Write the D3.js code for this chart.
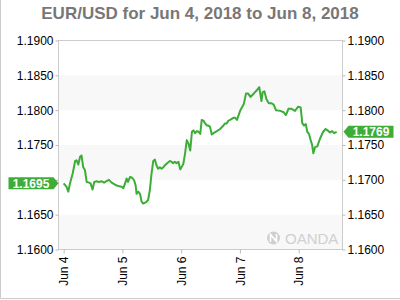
<!DOCTYPE html>
<html>
<head>
<meta charset="utf-8">
<title>EUR/USD</title>
<style type="text/css">
body { margin: 0; background: #fff; }
svg { display: block; font-family: "Liberation Sans", Arial, sans-serif; }
.line { fill: none; stroke: #3cad37; stroke-width: 2; stroke-linejoin: round; }
.axis text { font-size: 12px; fill: #000; }
.axis line { stroke: #bbb; }
.axis path { display: none; }
</style>
</head>
<body>
<div id="chart"></div>
<script src="https://d3js.org/d3.v7.min.js"></script>
<script>

// hours after Jun 4 2018 00:00
var hours = [0, 1.2, 1.9, 2.6, 3.7, 4.7, 5.3, 6.0, 6.7, 7.3, 8.0, 8.7, 9.4, 10.4, 11.0, 11.8,
  12.5, 13.5, 14.4, 15.5, 16.5, 17.5, 18.5, 19.6, 21.0, 22.3, 23.7, 24.4, 25.3, 25.7, 26.3,
  27.1, 28.0, 28.8, 29.4, 29.8, 30.5, 31.2, 31.8, 32.5, 33.7, 34.5, 35.2, 35.9, 36.6, 37.3,
  37.9, 38.6, 39.3, 40.0, 40.7, 41.4, 42.4, 43.4, 44.0, 44.7, 45.4, 46.1, 46.9, 47.6, 48.3,
  48.9, 49.6, 50.3, 51.0, 51.7, 52.4, 53.0, 53.7, 54.4, 55.1, 55.8, 56.4, 57.1, 57.8, 58.5,
  59.1, 59.8, 60.5, 61.2, 62.6, 63.9, 65.3, 65.9, 66.6, 67.3, 68.0, 69.3, 70.1, 70.8, 72.2,
  73.6, 74.5, 75.3, 76.3, 77.7, 79.0, 79.9, 80.8, 81.3, 82.0, 82.8, 83.8, 84.8, 85.8, 86.7,
  88.5, 89.9, 90.8, 91.8, 93.1, 94.5, 95.8, 96.8, 97.5, 98.2, 98.9, 99.5, 100.2, 100.9,
  101.5, 102.0, 102.7, 103.6, 104.7, 106.0, 107.0, 107.8, 108.8, 109.7, 110.5, 111.5];

var prices = [1.1695, 1.1690, 1.1683, 1.1695, 1.1709, 1.1727, 1.1728, 1.1722, 1.1733, 1.1735,
  1.1718, 1.1714, 1.1697, 1.1696, 1.1695, 1.1686, 1.1697, 1.1698, 1.1697, 1.1698, 1.1696,
  1.1698, 1.1700, 1.1696, 1.1693, 1.1691, 1.1690, 1.1688, 1.1697, 1.1702, 1.1697, 1.1704,
  1.1703, 1.1699, 1.1692, 1.1680, 1.1683, 1.1680, 1.1669, 1.1666, 1.1668, 1.1671, 1.1685,
  1.1709, 1.1727, 1.1729, 1.1721, 1.1716, 1.1718, 1.1716, 1.1718, 1.1721, 1.1724, 1.1727,
  1.1726, 1.1724, 1.1726, 1.1724, 1.1726, 1.1715, 1.1719, 1.1723, 1.1738, 1.1757, 1.1752,
  1.1742, 1.1769, 1.1771, 1.1767, 1.1770, 1.1769, 1.1766, 1.1786, 1.1785, 1.1781, 1.1778,
  1.1778, 1.1776, 1.1765, 1.1767, 1.1770, 1.1773, 1.1778, 1.1781, 1.1781, 1.1785, 1.1786,
  1.1789, 1.1789, 1.1786, 1.1800, 1.1809, 1.1824, 1.1824, 1.1819, 1.1824, 1.1829, 1.1833,
  1.1813, 1.1826, 1.1827, 1.1816, 1.1810, 1.1810, 1.1808, 1.1800, 1.1799, 1.1797, 1.1793,
  1.1802, 1.1802, 1.1799, 1.1805, 1.1804, 1.1781, 1.1778, 1.1780, 1.1769, 1.1766, 1.1757,
  1.1750, 1.1738, 1.1747, 1.1748, 1.1759, 1.1769, 1.1773, 1.1771, 1.1768, 1.1770, 1.1767,
  1.1769];

var yTicks = [1.1600, 1.1650, 1.1700, 1.1750, 1.1800, 1.1850, 1.1900];
var title = "EUR/USD for Jun 4, 2018 to Jun 8, 2018";

var width = 400, height = 300;
var plotL = 58.5, plotR = 342.5, plotT = 40.5, plotB = 249.5;
var base = Date.UTC(2018, 5, 4);
var H = 3600 * 1000;
var fmt = d3.format(".4f");

var data = hours.map(function(h, i) { return { t: new Date(base + h * H), v: prices[i] }; });
var first = prices[0], last = prices[prices.length - 1];

var xScale = d3.scaleUtc()
    .domain([new Date(base - 2.1 * H), new Date(base + 113.9 * H)])
    .range([plotL, plotR]);

var yScale = d3.scaleLinear()
    .domain([1.16, 1.19])
    .range([plotB, plotT]);

var svg = d3.select("#chart").append("svg")
    .attr("width", width)
    .attr("height", height);

// outer frame
svg.append("path")
    .attr("d", "M0.5,0 V298.5 H400")
    .attr("fill", "none")
    .attr("stroke", "#ccc");

// alternating bands
for (var i = 0; i < yTicks.length - 1; i++) {
  if (i % 2 == 0) {
    svg.append("rect")
        .attr("x", plotL)
        .attr("y", yScale(yTicks[i + 1]))
        .attr("width", plotR - plotL)
        .attr("height", yScale(yTicks[i]) - yScale(yTicks[i + 1]))
        .attr("fill", "#f8f8f8");
  }
}

svg.append("rect")
    .attr("x", plotL).attr("y", plotT)
    .attr("width", plotR - plotL).attr("height", plotB - plotT)
    .attr("fill", "none")
    .attr("stroke", "#ccc");

// watermark
var wm = svg.append("g").attr("transform", "translate(273.5,238)");
wm.append("circle").attr("r", 6.5).attr("fill", "#cfcfcf");
wm.append("path")
    .attr("d", "M-3,4 V-3.5 L3,3.5 V-4")
    .attr("fill", "none")
    .attr("stroke", "#fff")
    .attr("stroke-width", 1.6);
svg.append("text")
    .attr("x", 285)
    .attr("y", 244)
    .style("font-size", "15px")
    .attr("fill", "#d0d0d0")
    .text("OANDA");

// labels hidden behind a price tag are not drawn
function freeOf(v) {
  return function(t) { return Math.abs(yScale(t) - yScale(v)) < 12 ? "" : fmt(t); };
}

svg.append("g")
    .attr("class", "y axis")
    .attr("transform", "translate(" + plotL + ",0)")
    .call(d3.axisLeft(yScale).tickValues(yTicks).tickSize(3).tickPadding(2)
        .tickFormat(freeOf(first)));

svg.append("g")
    .attr("class", "y axis")
    .attr("transform", "translate(" + plotR + ",0)")
    .call(d3.axisRight(yScale).tickValues(yTicks).tickSize(3).tickPadding(2)
        .tickFormat(fmt));

var xAxis = svg.append("g")
    .attr("class", "x axis")
    .attr("transform", "translate(0," + plotB + ")")
    .call(d3.axisBottom(xScale).ticks(d3.utcDay.every(1)).tickSize(4)
        .tickFormat(d3.utcFormat("%b %-d")));

xAxis.selectAll("text")
    .attr("text-anchor", "end")
    .attr("transform", "rotate(-90)")
    .attr("x", -7)
    .attr("y", 0)
    .attr("dy", "0.35em");

var line = d3.line()
    .x(function(d) { return xScale(d.t); })
    .y(function(d) { return yScale(d.v); });

svg.append("path")
    .datum(data)
    .attr("class", "line")
    .attr("d", line);

// price tags for first and last values
function tag(v, tip, dir) {
  var y = yScale(v), h = 12, w = 45, a = 5;
  var g = svg.append("g");
  var body = tip - dir * a;
  var far = body - dir * w;
  g.append("path")
      .attr("d", "M" + tip + "," + y + " L" + body + "," + (y - h / 2) + " H" + far +
          " V" + (y + h / 2) + " H" + body + " Z")
      .attr("fill", "#3cad37");
  g.append("text")
      .attr("x", (body + far) / 2)
      .attr("y", y)
      .attr("dy", "0.36em")
      .attr("text-anchor", "middle")
      .attr("fill", "#fff")
      .style("font-size", "12px")
      .style("font-weight", "bold")
      .text(fmt(v));
}
tag(first, plotL, 1);
tag(last, plotR + 1, -1);

svg.append("text")
    .attr("x", width / 2)
    .attr("y", 18.5)
    .attr("text-anchor", "middle")
    .style("font-size", "17px")
    .style("font-weight", "bold")
    .attr("fill", "#777")
    .text(title);

</script>
</body>
</html>
